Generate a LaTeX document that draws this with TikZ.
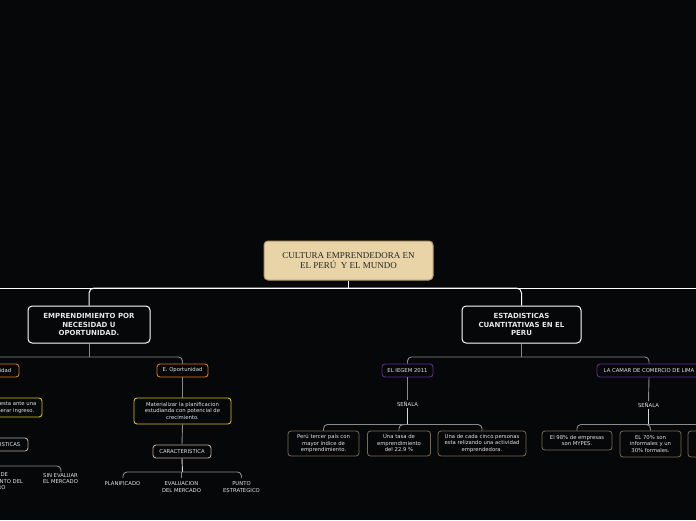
\documentclass[tikz,border=0pt]{standalone}
\usepackage{fontspec}
\setmainfont{DejaVu Sans}
\newfontfamily\rootfont{Liberation Serif}
\definecolor{bgc}{HTML}{060709}
\definecolor{rootfill}{HTML}{E8D4A6}
\definecolor{rootdraw}{HTML}{B39A68}
\definecolor{orng}{HTML}{D9781E}
\definecolor{purp}{HTML}{5B2C8F}
\definecolor{yell}{HTML}{D8C21A}
\definecolor{beig}{HTML}{B8A898}
\definecolor{leafd}{HTML}{7A6A55}
\definecolor{glin}{HTML}{8A8A8A}
\definecolor{txt}{HTML}{E6E6E6}
\tikzset{
  box/.style={draw, rounded corners=3pt, fill=bgc, text=txt, align=center, inner sep=1pt, line width=0.9pt},
  mainbox/.style={box, draw=white, rounded corners=4pt, line width=1pt, font=\bfseries\fontsize{7}{8.4}\selectfont},
  small/.style={font=\fontsize{5.3}{6.5}\selectfont},
  tagbox/.style={box, small, minimum height=13pt},
  obox/.style={tagbox, draw=orng},
  pbox/.style={tagbox, draw=purp},
  ybox/.style={box, small, draw=yell},
  cbox/.style={tagbox, draw=beig},
  leaf/.style={box, small, draw=leafd, line width=0.8pt},
  lab/.style={small, text=txt, align=center, anchor=north, inner sep=0pt},
  wline/.style={draw=white, line width=1pt},
  gline/.style={draw=glin, line width=0.9pt, rounded corners=4pt},
  lline/.style={draw=white!85!black, line width=0.9pt}
}
\begin{document}
\begin{tikzpicture}[x=1pt, y=-1pt]
\fill[bgc] (0,0) rectangle (696,520);
\useasboundingbox (0,0) rectangle (696,520);

% root
\node[draw=rootdraw, fill=rootfill, rounded corners=4pt, line width=1pt, minimum width=169pt, minimum height=39pt, align=center, text=black!85, font=\rootfont\fontsize{9}{10.5}\selectfont] (root) at (348.5,260.5) {CULTURA EMPRENDEDORA EN\\EL PERÚ\ \ Y EL MUNDO};

% level 1
\node[mainbox, minimum width=122pt, minimum height=37pt] (b1) at (89,324.5) {EMPRENDIMIENTO POR\\NECESIDAD U\\OPORTUNIDAD.};
\node[mainbox, minimum width=119pt, minimum height=37pt] (b2) at (521.5,324.5) {ESTADISTICAS\\CUANTITATIVAS EN EL\\PERU};

% level 2
\node[obox, minimum width=50pt] (nec) at (-6,370.5) {E. Necesidad};
\node[obox, minimum width=51pt] (opo) at (182.5,370.5) {E. Oportunidad};
\node[pbox, minimum width=51pt] (ieg) at (407.5,370.5) {EL IEGEM 2011};
\node[pbox, minimum width=104pt] (cam) at (649,370.5) {LA CAMAR DE COMERCIO DE LIMA};

% left branch
\node[ybox, minimum width=96pt, minimum height=19pt] (sne) at (-6,407.5) {Surge como respuesta ante una\\necesidad de generar ingreso.};
\node[cbox, minimum width=64pt] (car2) at (-4,444.5) {CARACTERISTICAS};
\node[lab] (fal) at (-4,472.5) {FALTA DE\\CONOCIMIENTO DEL\\RUBRO};
\node[lab] (sin) at (60.5,473) {SIN EVALUAR\\EL MERCADO};

% oportunidad branch
\node[ybox, minimum width=97pt, minimum height=26pt] (mat) at (182.5,411) {Materializar la planificacion\\estudianda con potencial de\\crecimiento.};
\node[cbox, minimum width=58pt] (car) at (182,451.5) {CARACTERISTICA};
\node[lab] (pla) at (122.5,481.5) {PLANIFICADO};
\node[lab] (eva) at (181.5,481.5) {EVALUACION\\DEL MERCADO};
\node[lab] (pun) at (241.5,481.5) {PUNTO\\ESTRATEGICO};

% IEGEM branch
\node[small, text=txt, inner sep=1pt] (sen1) at (407.5,404) {SEÑALA};
\node[leaf, minimum width=71pt, minimum height=25pt] (c1) at (323.5,443.5) {Perú tercer país con\\mayor índice de\\emprendimiento.};
\node[leaf, minimum width=63pt, minimum height=25pt] (c2) at (399,443.5) {Una tasa de\\emprendimiento\\del 22.9 \%};
\node[leaf, minimum width=88pt, minimum height=25pt] (c3) at (482,443.5) {Una de cada cinco personas\\esta relizando una actividad\\emprendedora.};

% Camara branch
\node[small, text=txt, inner sep=1pt] (sen2) at (648.5,405) {SEÑALA};
\node[leaf, minimum width=70pt, minimum height=19pt] (c4) at (577,440.5) {El 98\% de empresas\\son MYPES.};
\node[leaf, minimum width=61pt, minimum height=26pt] (c5) at (650.5,444) {EL 70\% son\\informales y un\\30\% formales.};
\node[leaf, minimum width=64pt, minimum height=26pt] (c6) at (720,444) {Las MYPES\\emplean a mas\\buena parte};

% connectors level 0-1
\draw[wline] (root.south) -- (348.5,288);
\draw[wline, rounded corners=5pt] (348.5,288) -| (b1.north);
\draw[wline] (-10,288) -- (348.5,288);
\draw[wline, rounded corners=5pt] (348.5,288) -| (b2.north);
\draw[wline] (348.5,288) -- (710,288);

% level 1-2
\draw[gline] (b1.south) -- (89,357);
\draw[gline] (nec.north) |- (89,357) -| (opo.north);
\draw[gline] (b2.south) -- (521.5,357);
\draw[gline] (ieg.north) |- (521.5,357) -| (cam.north);

% left branch
\draw[gline] (nec.south) -- (sne.north);
\draw[gline] (sne.south) -- (car2.north);
\draw[lline] (car2.south) -- (-4,466);
\draw[gline] (-60,466) -| (61,472);

% oportunidad branch
\draw[gline] (opo.south) -- (mat.north);
\draw[gline] (mat.south) -- (car.north);
\draw[lline] (car.south) -- (182.5,472);
\draw[gline] (123,478) |- (182.5,472) -| (241.5,478);
\draw[gline] (181.5,472) -- (181.5,478);

% IEGEM branch
\draw[gline] (ieg.south) -- (sen1.north);
\draw[lline] (sen1.south) -- (407.5,424.5);
\draw[gline] (c1.north) |- (407.5,424.5) -| (c3.north);
\draw[gline] (407.5,424.5) -| (c2.north);

% Camara branch
\draw[gline] (cam.south) -- (sen2.north);
\draw[lline] (sen2.south) -- (648.5,424.5);
\draw[gline] (c4.north) |- (648.5,424.5) -| (c6.north);
\draw[gline] (648.5,424.5) -| (c5.north);
\end{tikzpicture}
\end{document}
